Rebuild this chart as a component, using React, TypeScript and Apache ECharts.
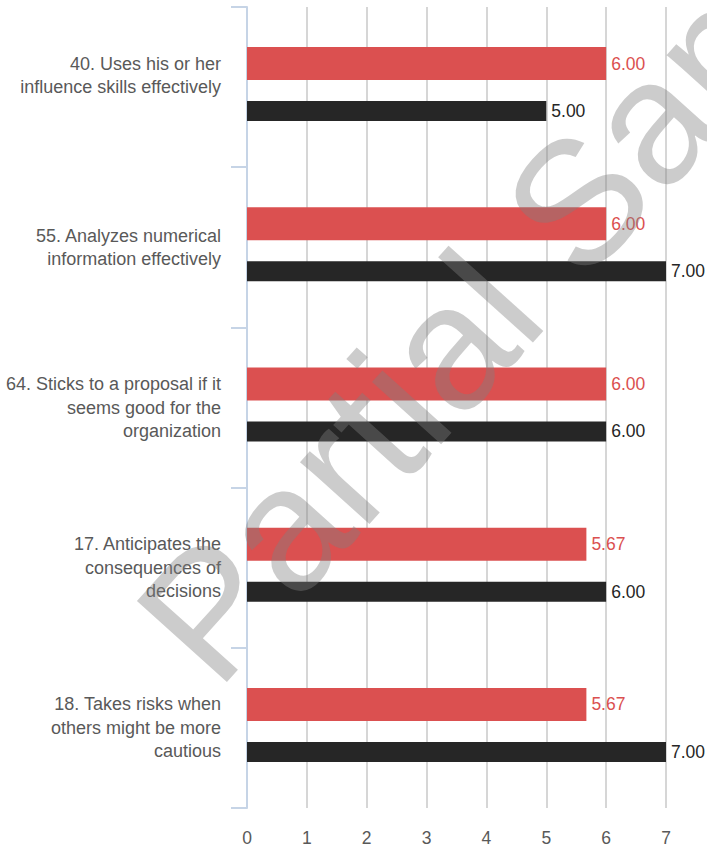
import React, { useEffect, useRef } from "react";
import * as echarts from "echarts";

const categories: string[] = [
  "40. Uses his or her\ninfluence skills effectively\n",
  "55. Analyzes numerical\ninformation effectively",
  "64. Sticks to a proposal if it\nseems good for the\norganization",
  "17. Anticipates the\nconsequences of\ndecisions",
  "18. Takes risks when\nothers might be more\ncautious",
];
const redValues: number[] = [6.0, 6.0, 6.0, 5.67, 5.67];
const blackValues: number[] = [5.0, 7.0, 6.0, 6.0, 7.0];
const xTicks = { min: 0, max: 7, interval: 1 };
const watermark = "Partial Sample";

const FONT = "'Liberation Sans', Arial, Helvetica, sans-serif";

export default function App() {
  const ref = useRef<HTMLDivElement>(null);
  useEffect(() => {
    document.body.style.margin = "0";
    if (!ref.current) return;
    const chart = echarts.init(ref.current, undefined, { renderer: "svg" });
    const labelFmt = (p: any) => Number(p.value).toFixed(2);
    chart.setOption({
      animation: false,
      backgroundColor: "#ffffff",
      textStyle: { fontFamily: FONT },
      grid: [
        { left: 247, right: 41, top: 7, bottom: 40, containLabel: false },
        { left: 247, right: 41, top: 4, bottom: 43, containLabel: false },
      ],
      xAxis: [
        {
          type: "value",
          gridIndex: 0,
          min: xTicks.min,
          max: xTicks.max,
          interval: xTicks.interval,
          axisLine: { show: false },
          axisTick: { show: false },
          axisLabel: { color: "#595959", fontSize: 17.5, fontFamily: FONT, margin: 21 },
          splitLine: { show: true, lineStyle: { color: "#c9c9c9", width: 1.5 } },
        },
        {
          type: "value",
          gridIndex: 1,
          min: xTicks.min,
          max: xTicks.max,
          interval: xTicks.interval,
          show: false,
          splitLine: { show: false },
        },
      ],
      yAxis: [
        {
          type: "category",
          gridIndex: 0,
          inverse: true,
          data: categories,
          axisLine: { show: true, lineStyle: { color: "#c6d4e6", width: 2 } },
          axisTick: { show: true, length: 16, lineStyle: { color: "#c6d4e6", width: 2 } },
          axisLabel: {
            color: "#595959",
            fontSize: 18,
            lineHeight: 23.5,
            fontFamily: FONT,
            margin: 26,
          },
          splitLine: { show: false },
        },
        {
          type: "category",
          gridIndex: 1,
          inverse: true,
          data: categories,
          show: false,
          splitLine: { show: false },
        },
      ],
      series: [
        {
          name: "Red",
          type: "bar",
          xAxisIndex: 1,
          yAxisIndex: 1,
          data: redValues,
          barWidth: 33,
          barGap: "63.6%",
          itemStyle: { color: "#db5050" },
          label: {
            show: true,
            position: "right",
            distance: 5,
            color: "#db5050",
            fontSize: 17.5,
            fontFamily: FONT,
            formatter: labelFmt,
          },
        },
        {
          name: "Black",
          type: "bar",
          xAxisIndex: 1,
          yAxisIndex: 1,
          data: blackValues,
          barWidth: 20,
          barGap: "63.6%",
          itemStyle: { color: "#262626" },
          label: {
            show: true,
            position: "right",
            distance: 5,
            color: "#262626",
            fontSize: 17.5,
            fontFamily: FONT,
            formatter: labelFmt,
          },
        },
      ],
      graphic: [
        {
          type: "text",
          z: 100,
          x: 172,
          y: 652,
          rotation: (48 * Math.PI) / 180,
          silent: true,
          style: {
            text: watermark,
            fontSize: 176,
            fontFamily: FONT,
            fill: "rgba(128,128,128,0.4)",
            textAlign: "left",
            textVerticalAlign: "middle",
          },
        },
      ],
    });
    return () => chart.dispose();
  }, []);
  return <div ref={ref} style={{ width: 707, height: 848 }} />;
}
